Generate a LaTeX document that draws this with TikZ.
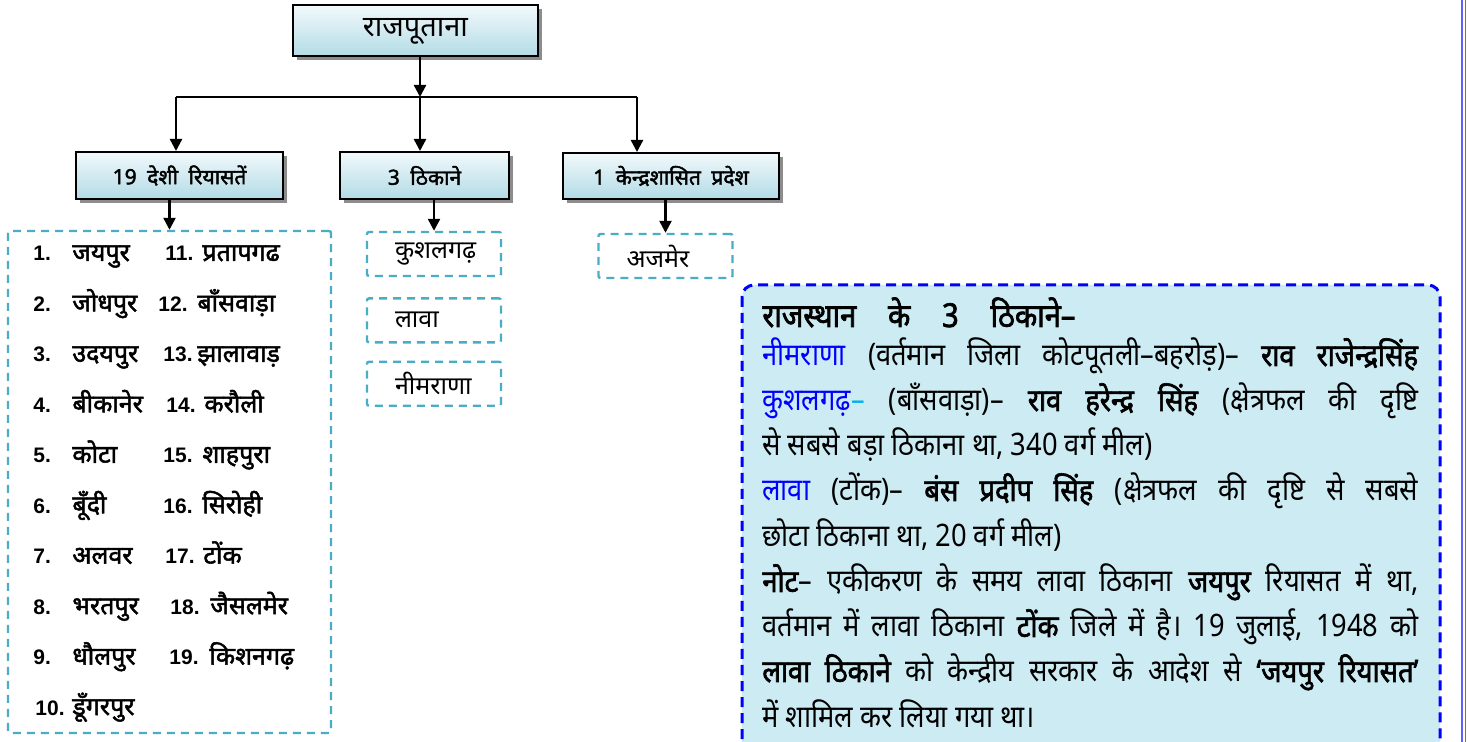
\documentclass[tikz,border=0pt]{standalone}
\usepackage{fontspec}
\setmainfont[Script=Devanagari, BoldFont={Noto Sans}, BoldFeatures={FakeBold=2}]{Noto Sans}
\newfontfamily\slimdev[Script=Devanagari, FakeStretch=0.88, BoldFont={Noto Sans}, BoldFeatures={FakeBold=2}]{Noto Sans}
\newfontfamily\numfont{Liberation Sans}
\usetikzlibrary{positioning,shadows,arrows.meta}

\definecolor{boxtop}{HTML}{F2F9FB}
\definecolor{boxbot}{HTML}{B2DBE6}
\definecolor{dashcyan}{HTML}{4BACC6}
\definecolor{notefill}{HTML}{CDEBF3}
\definecolor{dashblue}{HTML}{0000FF}
\definecolor{dashtint}{HTML}{00B0F0}
\definecolor{pageblue}{HTML}{6060FF}

\begin{document}
\begin{tikzpicture}[x=0.5pt, y=-0.5pt,
    head/.style = {draw, line width=1pt, top color=boxtop, bottom color=boxbot, inner sep=0pt,
        drop shadow={shadow xshift=2pt, shadow yshift=-2pt, fill=black!45, opacity=1},
        font=\bfseries\fontsize{10.5}{12}\selectfont},
    frame/.style = {draw=dashcyan, line width=1.2pt, dash pattern=on 4pt off 3pt, rounded corners=1pt, inner sep=0pt},
    sub/.style = {frame, minimum width=67pt, minimum height=22pt, inner xsep=14pt, text width=39pt, align=left,
        font=\fontsize{12.5}{14}\selectfont},
    num/.style = {anchor=base west, inner sep=0pt, font=\numfont\bfseries\fontsize{10.5}{12}\selectfont},
    item/.style = {anchor=base west, inner sep=0pt, font=\bfseries\fontsize{12.5}{14}\selectfont},
    line/.style = {anchor=base west, inner sep=0pt, font=\slimdev\fontsize{15.5}{18}\selectfont},
    arr/.style = {line width=1.2pt, -{Triangle[width=6pt,length=6pt]}}]

    \useasboundingbox (0,0) rectangle (1467,742);

    % page edge
    \draw[pageblue, line width=0.6pt] (1462,0) -- (1462,742);
    \draw[pageblue, line width=0.6pt] (1465.5,0) -- (1465.5,742);

    % tree
    \node[head, minimum width=122.5pt, minimum height=25.5pt, font=\fontsize{14.5}{16}\selectfont] (raj) at (415.5,31) {राजपूताना};
    \node[head, minimum width=103.5pt, minimum height=23.5pt] (desi) at (179.5,175.5) {19\enspace देशी\enspace रियासतें};
    \node[head, minimum width=84.5pt, minimum height=23.5pt] (thik) at (424.5,175.5) {3\enspace ठिकाने};
    \node[head, minimum width=108pt, minimum height=23pt] (kendra) at (671,176) {1\enspace केन्द्रशासित\enspace प्रदेश};

    \coordinate (fork) at (420,97);
    \coordinate (forkL) at (176,97);
    \coordinate (forkR) at (637,97);

    \draw[arr] (raj.south -| fork) -- (fork);
    \draw[line width=1.2pt] (forkL) -- (forkR);
    \draw[arr] (forkL) -- (forkL |- desi.north);
    \draw[arr] (fork) -- (fork |- thik.north);
    \draw[arr] (forkR) -- (forkR |- kendra.north);

    % thikane and ajmer
    \node[sub] (kushal) at (434,254) {कुशलगढ़};
    \node[sub, below=10pt of kushal] (lava) {लावा};
    \node[sub, below=8.5pt of lava] (neem) {नीमराणा};
    \node[sub] (ajmer) at (665.5,256) {अजमेर};

    \draw[arr] (thik.south -| kushal) -- (kushal.north);
    \draw[arr] (kendra.south -| ajmer) -- (ajmer.north);

    % 19 states
    \node[frame, minimum width=161.5pt, minimum height=251pt] (states) at (169.5,482) {};
    \draw[arr] (states.north |- desi.south) -- (states.north);

    \foreach \a/\b/\cx/\c/\dx/\d [count=\i] in {
        1./जयपुर/165/11./202/प्रतापगढ,
        2./जोधपुर/158/12./197/बाँसवाड़ा,
        3./उदयपुर/163/13./197/झालावाड़,
        4./बीकानेर/166/14./204/करौली,
        5./कोटा/163/15./202/शाहपुरा,
        6./बूँदी/163/16./202/सिरोही,
        7./अलवर/165/17./203/टोंक,
        8./भरतपुर/170/18./210/जैसलमेर,
        9./धौलपुर/169/19./209/किशनगढ़}
    {
        \node[num] (na\i) at (33,{261+50.45*(\i-1)}) {\a};
        \node[item] (sa\i) at (72,{261+50.45*(\i-1)}) {\b};
        \node[num] (nb\i) at (\cx,{261+50.45*(\i-1)}) {\c};
        \node[item] (sb\i) at (\dx,{261+50.45*(\i-1)}) {\d};
    }
    \node[num] (na10) at (35,715) {10.};
    \node[item] (sa10) at (72,715) {डूँगरपुर};

    % note on the three thikane
    \draw[dashblue, fill=notefill, line width=1.5pt, dash pattern=on 5pt off 3pt, rounded corners=6pt]
        (742,285) rectangle (1440,790);

    \node[line, font=\slimdev\bfseries\fontsize{16.5}{19}\selectfont] (l1) at (762,327)
        {\makebox[156.5pt][s]{राजस्थान के 3 ठिकाने–}};
    \node[line] (l2) at (762,366) {\makebox[328pt][s]{\textcolor{dashblue}{नीमराणा} (वर्तमान जिला कोटपूतली–बहरोड़)– \textbf{राव राजेन्द्रसिंह}}};
    \node[line] (l3) at (762,411) {\makebox[328pt][s]{\textcolor{dashblue}{कुशलगढ़}\textcolor{dashtint}{–} (बाँसवाड़ा)– \textbf{राव हरेन्द्र सिंह} (क्षेत्रफल की दृष्टि}};
    \node[line] (l4) at (762,456) {से सबसे बड़ा ठिकाना था, 340 वर्ग मील)};
    \node[line] (l5) at (762,501) {\makebox[328pt][s]{\textcolor{dashblue}{लावा} (टोंक)– \textbf{बंस प्रदीप सिंह} (क्षेत्रफल की दृष्टि से सबसे}};
    \node[line] (l6) at (762,547) {छोटा ठिकाना था, 20 वर्ग मील)};
    \node[line] (l7) at (762,592) {\makebox[328pt][s]{\textbf{नोट}– एकीकरण के समय लावा ठिकाना \textbf{जयपुर} रियासत में था,}};
    \node[line] (l8) at (762,637) {\makebox[328pt][s]{वर्तमान में लावा ठिकाना \textbf{टोंक} जिले में है। 19 जुलाई, 1948 को}};
    \node[line] (l9) at (762,682) {\makebox[328pt][s]{\textbf{लावा ठिकाने} को केन्द्रीय सरकार के आदेश से \textbf{‘जयपुर रियासत’}}};
    \node[line] (l10) at (762,727) {में शामिल कर लिया गया था।};
\end{tikzpicture}
\end{document}
